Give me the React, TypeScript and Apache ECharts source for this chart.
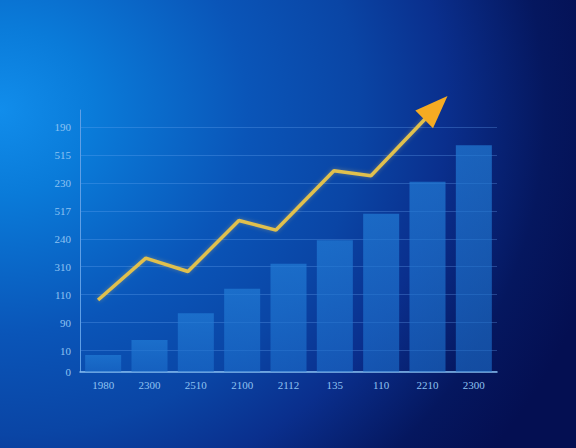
import React, { useEffect, useRef } from "react";
import * as echarts from "echarts";

// Category labels along the bottom axis
const categories = ["1980", "2300", "2510", "2100", "2112", "135", "110", "2210", "2300"];
// Bar heights, in axis units
const barValues = [0.6, 1.13, 2.09, 2.96, 3.86, 4.7, 5.64, 6.79, 8.09];
// Vertical axis ticks and the labels printed at them
const yTickValues = [0, 0.75, 1.75, 2.75, 3.75, 4.75, 5.75, 6.75, 7.75, 8.75];
const yTickLabels = ["0", "10", "90", "110", "310", "240", "517", "230", "515", "190"];
// Trend line points (x in category index units, y in axis units); last point carries the arrowhead
const trendX = [-0.11, 0.92, 1.83, 2.93, 3.73, 4.98, 5.78, 7.18];
const trendY = [2.56, 4.06, 3.58, 5.4, 5.06, 7.18, 7.0, 9.43];

const labelColor = "#8fc3f2";
const labelFont = "'Liberation Serif', 'DejaVu Serif', serif";

export default function App() {
  const ref = useRef<HTMLDivElement>(null);

  useEffect(() => {
    if (!ref.current) return;
    const chart = echarts.init(ref.current, undefined, { renderer: "svg" });

    const lastIdx = trendX.length - 1;
    const trendData = trendX.map((x, i) => {
      if (i === lastIdx) {
        return {
          value: [x, trendY[i]],
          symbol: "triangle",
          symbolSize: [25, 33],
          symbolRotate: -45,
          itemStyle: { color: "#f5ab22", borderWidth: 0 },
        };
      }
      return { value: [x, trendY[i]] };
    });

    chart.setOption({
      animation: false,
      backgroundColor: "transparent",
      grid: { left: 80, right: 79, top: 110, bottom: 76.3, containLabel: false },
      xAxis: [
        {
          type: "category",
          data: categories,
          axisLine: { show: true, onZero: false, lineStyle: { color: "#86bdf0", width: 1.5 } },
          axisTick: { show: false },
          axisLabel: {
            color: labelColor,
            fontSize: 11,
            fontFamily: labelFont,
            margin: 8,
          },
          splitLine: { show: false },
        },
        {
          type: "value",
          min: -0.5,
          max: 8.5,
          show: false,
        },
      ],
      yAxis: {
        type: "value",
        min: 0,
        max: 9.35,
        axisLine: { show: true, onZero: false, lineStyle: { color: "#5f9fe6", width: 1 } },
        axisTick: { show: false, customValues: yTickValues },
        axisLabel: {
          customValues: yTickValues,
          color: labelColor,
          fontSize: 11,
          fontFamily: labelFont,
          margin: 9,
          formatter: (v: number) => {
            const i = yTickValues.findIndex((t) => Math.abs(t - v) < 1e-6);
            return i >= 0 ? yTickLabels[i] : "";
          },
        },
        splitLine: {
          show: true,
          lineStyle: { color: "rgba(110,170,245,0.3)", width: 1 },
        },
      },
      series: [
        {
          type: "bar",
          xAxisIndex: 0,
          data: barValues,
          barWidth: 36,
          itemStyle: {
            color: new echarts.graphic.LinearGradient(0, 0, 0, 1, [
              { offset: 0, color: "rgba(34,124,214,0.7)" },
              { offset: 1, color: "rgba(28,110,204,0.62)" },
            ]),
          },
          z: 2,
        },
        {
          type: "line",
          xAxisIndex: 1,
          data: trendData,
          symbol: "none",
          clip: false,
          lineStyle: {
            color: "#e0c04e",
            width: 3.5,
            shadowColor: "rgba(255,205,80,0.35)",
            shadowBlur: 4,
          },
          z: 5,
        },
      ],
    });

    return () => chart.dispose();
  }, []);

  return (
    <div
      style={{
        position: "absolute",
        left: 0,
        top: 0,
        width: 576,
        height: 448,
        background:
          "radial-gradient(ellipse 620px 560px at 0px 110px, #118deb 0%, #0a7bd9 15%, #0a55b8 40%, #0a45a5 58%, #0a2f8d 72%, #05175f 88%, #040f52 100%)",
      }}
    >
      <div ref={ref} style={{ width: 576, height: 448 }} />
    </div>
  );
}
